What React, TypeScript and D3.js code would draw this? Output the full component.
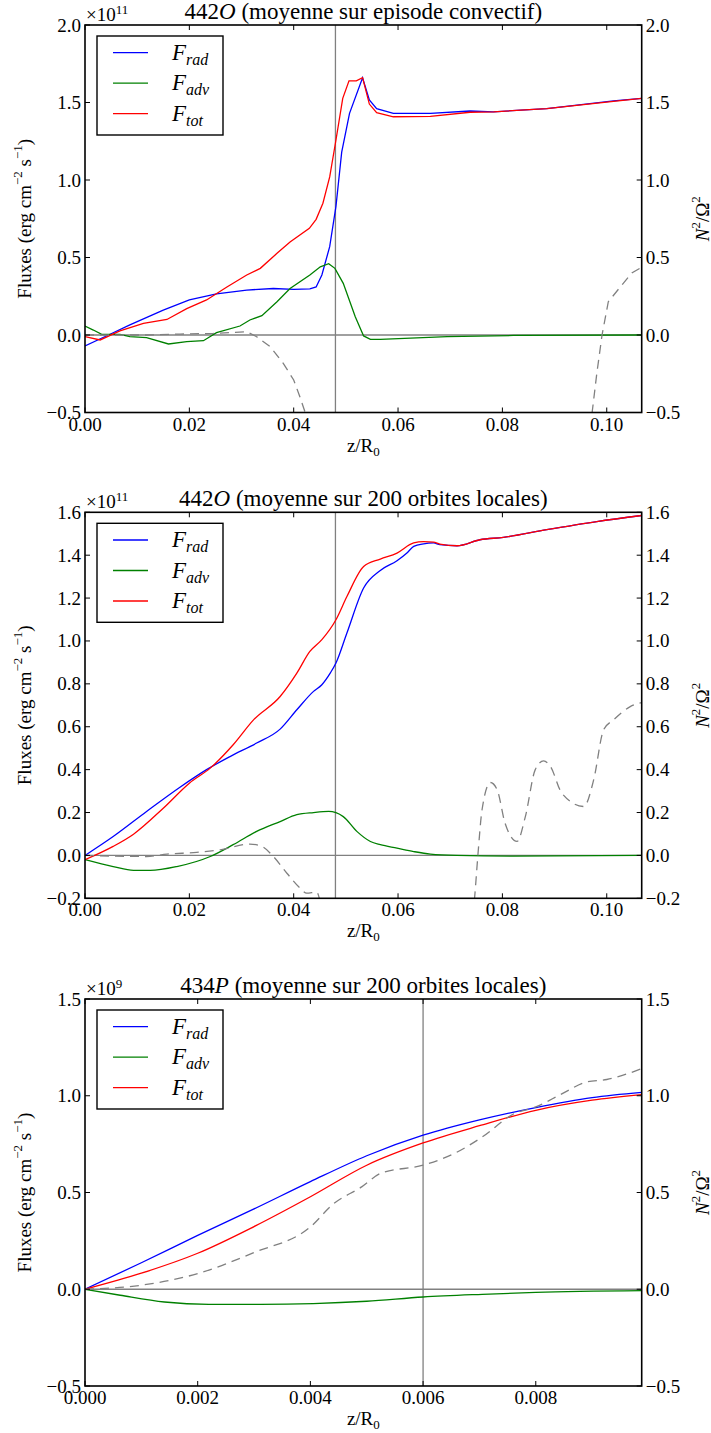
import React from 'react';
import * as d3 from 'd3';

type Pt = [number, number];

// ---------- Panel 1 : 442O (moyenne sur episode convectif) ----------
const p1Rad: Pt[] = [
  [0, -0.071], [0.0048, 0.005], [0.0086, 0.065], [0.015, 0.16], [0.02, 0.226], [0.0252, 0.265],
  [0.031, 0.29], [0.0361, 0.3], [0.04, 0.295], [0.0431, 0.297], [0.0443, 0.31], [0.0454, 0.387],
  [0.0469, 0.57], [0.0481, 0.83], [0.0492, 1.18], [0.0507, 1.43], [0.0532, 1.66], [0.0545, 1.516],
  [0.0559, 1.46], [0.0591, 1.43], [0.0662, 1.43], [0.0738, 1.445], [0.0783, 1.44], [0.0885, 1.46],
  [0.1013, 1.51], [0.1067, 1.527],
];
const p1Adv: Pt[] = [
  [0, 0.058], [0.0016, 0.032], [0.0032, 0.004], [0.0067, 0.004], [0.0086, -0.011], [0.0118, -0.017],
  [0.016, -0.058], [0.0195, -0.043], [0.0227, -0.037], [0.0252, 0.015], [0.0297, 0.058], [0.0316, 0.097],
  [0.0339, 0.125], [0.0368, 0.215], [0.0393, 0.3], [0.0431, 0.387], [0.0451, 0.44], [0.0467, 0.46],
  [0.0479, 0.43], [0.0495, 0.333], [0.0518, 0.118], [0.0534, -0.006], [0.0547, -0.028], [0.0566, -0.028],
  [0.0694, -0.011], [0.0821, -0.003], [0.1067, 0],
];
const p1Tot: Pt[] = [
  [0, -0.011], [0.0029, -0.032], [0.0067, 0.026], [0.0112, 0.075], [0.0157, 0.1], [0.0195, 0.17],
  [0.0233, 0.226], [0.0272, 0.31], [0.031, 0.387], [0.0336, 0.43], [0.0368, 0.527], [0.0393, 0.6],
  [0.043, 0.688], [0.0443, 0.746], [0.0456, 0.85], [0.0469, 1.02], [0.0481, 1.258], [0.0494, 1.527],
  [0.0506, 1.64], [0.052, 1.64], [0.0532, 1.66], [0.0545, 1.49], [0.0559, 1.434], [0.0591, 1.408],
  [0.0662, 1.41], [0.0738, 1.437], [0.0783, 1.44], [0.0885, 1.46], [0.1013, 1.507], [0.1067, 1.527],
];
const p1N2: Pt[] = [
  [0, 0], [0.0118, 0], [0.0182, 0.006], [0.0246, 0.01], [0.031, 0.021], [0.0329, -0.011],
  [0.0355, -0.075], [0.038, -0.183], [0.04, -0.29], [0.0412, -0.4], [0.0422, -0.5], [0.044, -0.75],
  [0.047, -1.2], [0.095, -1.2], [0.0972, -0.5], [0.0981, -0.247], [0.0991, 0], [0.1003, 0.215],
  [0.1026, 0.31], [0.1048, 0.4], [0.1067, 0.437],
];

// ---------- Panel 2 : 442O (moyenne sur 200 orbites locales) ----------
const p2Rad: Pt[] = [
  [0, 0], [0.0054, 0.088], [0.0118, 0.205], [0.0182, 0.318], [0.0233, 0.4], [0.0278, 0.461],
  [0.0329, 0.524], [0.0374, 0.589], [0.0406, 0.679], [0.0438, 0.765], [0.0454, 0.796], [0.047, 0.85],
  [0.0481, 0.897], [0.0502, 1.037], [0.0534, 1.247], [0.0566, 1.329], [0.0598, 1.374], [0.0617, 1.41],
  [0.063, 1.441], [0.0649, 1.453], [0.0668, 1.457], [0.068, 1.449], [0.0713, 1.444], [0.0757, 1.472],
  [0.0802, 1.483], [0.0885, 1.519], [0.0981, 1.557], [0.1067, 1.585],
];
const p2Adv: Pt[] = [
  [0, -0.02], [0.0054, -0.052], [0.0093, -0.07], [0.0125, -0.07], [0.0176, -0.052], [0.024, -0.005],
  [0.0284, 0.05], [0.0329, 0.112], [0.0374, 0.158], [0.0406, 0.19], [0.0438, 0.2], [0.0467, 0.205],
  [0.0495, 0.181], [0.0521, 0.112], [0.0547, 0.065], [0.0566, 0.05], [0.0598, 0.034], [0.063, 0.018],
  [0.0662, 0.006], [0.0713, 0], [0.0821, -0.003], [0.1067, 0],
];
const p2Tot: Pt[] = [
  [0, -0.02], [0.0054, 0.042], [0.0093, 0.099], [0.015, 0.22], [0.02, 0.337], [0.024, 0.407],
  [0.0284, 0.516], [0.0323, 0.632], [0.0374, 0.741], [0.0406, 0.85], [0.0431, 0.951], [0.0454, 1.006],
  [0.0481, 1.099], [0.0502, 1.207], [0.0534, 1.347], [0.0566, 1.382], [0.0598, 1.41], [0.063, 1.457],
  [0.0649, 1.463], [0.0668, 1.461], [0.068, 1.452], [0.0713, 1.444], [0.0757, 1.472], [0.0802, 1.483],
  [0.0885, 1.519], [0.0981, 1.557], [0.1067, 1.585],
];
const p2N2: Pt[] = [
  [0, 0], [0.0118, -0.005], [0.0157, 0.006], [0.0214, 0.014], [0.0259, 0.026], [0.0316, 0.053],
  [0.0339, 0.042], [0.0361, -0.005], [0.0387, -0.083], [0.0412, -0.152], [0.0425, -0.176],
  [0.0444, -0.171], [0.046, -0.3], [0.073, -0.5], [0.0747, -0.19], [0.0753, 0], [0.0761, 0.213],
  [0.0777, 0.34], [0.079, 0.306], [0.0805, 0.151], [0.0828, 0.065], [0.0844, 0.181], [0.0863, 0.4],
  [0.0879, 0.441], [0.0892, 0.415], [0.0914, 0.29], [0.0956, 0.228], [0.0975, 0.353], [0.0994, 0.586],
  [0.1013, 0.632], [0.1045, 0.694], [0.1067, 0.713],
];

// ---------- Panel 3 : 434P (moyenne sur 200 orbites locales) ----------
const p3Rad: Pt[] = [
  [0, 0], [0.001, 0.137], [0.002, 0.278], [0.003, 0.415], [0.004, 0.556], [0.005, 0.69],
  [0.006, 0.796], [0.007, 0.875], [0.008, 0.939], [0.009, 0.99], [0.00988, 1.017],
];
const p3Adv: Pt[] = [
  [0, 0], [0.000625, -0.031], [0.00141, -0.066], [0.0022, -0.078], [0.00312, -0.078], [0.00405, -0.074],
  [0.005, -0.062], [0.006, -0.04], [0.00705, -0.026], [0.008, -0.016], [0.00988, -0.007],
];
const p3Tot: Pt[] = [
  [0, 0], [0.001, 0.083], [0.002, 0.186], [0.003, 0.324], [0.004, 0.478], [0.005, 0.641],
  [0.006, 0.756], [0.007, 0.845], [0.008, 0.925], [0.009, 0.977], [0.00988, 1.006],
];
const p3N2: Pt[] = [
  [0, 0], [0.001, 0.021], [0.002, 0.081], [0.003, 0.19], [0.004, 0.322], [0.0044, 0.439],
  [0.00491, 0.529], [0.00526, 0.601], [0.006, 0.641], [0.00655, 0.701], [0.00705, 0.787],
  [0.00762, 0.908], [0.008, 0.942], [0.00847, 1.011], [0.0089, 1.071], [0.00926, 1.084], [0.00988, 1.14],
];

// ticks
const xTicks12 = [0, 0.02, 0.04, 0.06, 0.08, 0.1];
const xTicks3 = [0, 0.002, 0.004, 0.006, 0.008];
const yTicks1 = [-0.5, 0, 0.5, 1.0, 1.5, 2.0];
const yTicks2 = [-0.2, 0, 0.2, 0.4, 0.6, 0.8, 1.0, 1.2, 1.4, 1.6];
const yTicks3 = [-0.5, 0, 0.5, 1.0, 1.5];

const FONT = '"Liberation Serif", "DejaVu Serif", serif';
const LEFT = 85;
const RIGHT = 641.7;

type PanelProps = {
  id: string;
  top: number;
  bottom: number;
  xMax: number;
  yDomain: [number, number];
  xTicks: number[];
  yTicks: number[];
  xFmt: string;
  vline: number;
  titleNum: string;
  titleLetter: string;
  titleRest: string;
  exponent: string;
  rad: Pt[];
  adv: Pt[];
  tot: Pt[];
  n2: Pt[];
  smooth: boolean;
};

function Panel(p: PanelProps) {
  const x = d3.scaleLinear().domain([0, p.xMax]).range([LEFT, RIGHT]);
  const y = d3.scaleLinear().domain(p.yDomain).range([p.bottom, p.top]);
  const line = d3
    .line<Pt>()
    .x((d) => x(d[0]))
    .y((d) => y(d[1]))
    .curve(p.smooth ? d3.curveMonotoneX : d3.curveLinear);
  const xf = d3.format(p.xFmt);
  const yf = d3.format('.1f');
  const cx = (LEFT + RIGHT) / 2;
  const cy = (p.top + p.bottom) / 2;
  const TL = 5;
  const legRows = [
    { c: '#0000ff', sub: 'rad' },
    { c: '#008000', sub: 'adv' },
    { c: '#ff0000', sub: 'tot' },
  ];
  return (
    <g>
      <defs>
        <clipPath id={p.id}>
          <rect x={LEFT} y={p.top} width={RIGHT - LEFT} height={p.bottom - p.top} />
        </clipPath>
      </defs>
      <g clipPath={`url(#${p.id})`}>
        <line x1={LEFT} x2={RIGHT} y1={y(0)} y2={y(0)} stroke="#808080" strokeWidth={1.3} />
        <line x1={x(p.vline)} x2={x(p.vline)} y1={p.top} y2={p.bottom} stroke="#808080" strokeWidth={1.3} />
        <path d={line(p.rad) || ''} fill="none" stroke="#0000ff" strokeWidth={1.3} />
        <path d={line(p.adv) || ''} fill="none" stroke="#008000" strokeWidth={1.3} />
        <path d={line(p.tot) || ''} fill="none" stroke="#ff0000" strokeWidth={1.3} />
        <path d={line(p.n2) || ''} fill="none" stroke="#808080" strokeWidth={1.3} strokeDasharray="9,6" />
      </g>
      {/* frame */}
      <rect x={LEFT} y={p.top} width={RIGHT - LEFT} height={p.bottom - p.top} fill="none" stroke="#000" strokeWidth={1.6} />
      {/* x ticks */}
      {p.xTicks.map((t) => (
        <g key={'x' + t}>
          <line x1={x(t)} x2={x(t)} y1={p.bottom} y2={p.bottom - TL} stroke="#000" strokeWidth={1} />
          <line x1={x(t)} x2={x(t)} y1={p.top} y2={p.top + TL} stroke="#000" strokeWidth={1} />
          <text x={x(t)} y={p.bottom + 18} textAnchor="middle" fontSize={19} fontFamily={FONT} fill="#000">
            {xf(t)}
          </text>
        </g>
      ))}
      {/* y ticks */}
      {p.yTicks.map((t) => (
        <g key={'y' + t}>
          <line x1={LEFT} x2={LEFT + TL} y1={y(t)} y2={y(t)} stroke="#000" strokeWidth={1} />
          <line x1={RIGHT} x2={RIGHT - TL} y1={y(t)} y2={y(t)} stroke="#000" strokeWidth={1} />
          <text x={LEFT - 4} y={y(t)} textAnchor="end" dominantBaseline="central" fontSize={19} fontFamily={FONT} fill="#000">
            {yf(t)}
          </text>
          <text x={RIGHT + 4} y={y(t)} textAnchor="start" dominantBaseline="central" fontSize={19} fontFamily={FONT} fill="#000">
            {yf(t)}
          </text>
        </g>
      ))}
      {/* offset text */}
      <text x={LEFT + 1} y={p.top - 4} fontSize={19} fontFamily={FONT} fill="#000">
        ×10
        <tspan dy={-7} fontSize={13}>
          {p.exponent}
        </tspan>
      </text>
      {/* title */}
      <text x={cx} y={p.top - 6} textAnchor="middle" fontSize={23} fontFamily={FONT} fill="#000">
        {p.titleNum}
        <tspan fontStyle="italic">{p.titleLetter}</tspan>
        {p.titleRest}
      </text>
      {/* x label */}
      <text x={cx} y={p.bottom + 39} textAnchor="middle" fontSize={19} fontFamily={FONT} fill="#000">
        z/R
        <tspan dy={4} fontSize={13}>
          0
        </tspan>
      </text>
      {/* left y label */}
      <text
        transform={`translate(24,${cy}) rotate(-90)`}
        textAnchor="middle"
        dominantBaseline="central"
        fontSize={19}
        fontFamily={FONT}
        fill="#000"
      >
        Fluxes (erg cm
        <tspan dy={-7} fontSize={13}>
          −2
        </tspan>
        <tspan dy={7}> s</tspan>
        <tspan dy={-7} fontSize={13}>
          −1
        </tspan>
        <tspan dy={7}>)</tspan>
      </text>
      {/* right y label */}
      <text
        transform={`translate(702,${cy}) rotate(-90)`}
        textAnchor="middle"
        dominantBaseline="central"
        fontSize={19}
        fontFamily={FONT}
        fill="#000"
      >
        <tspan fontStyle="italic">N</tspan>
        <tspan dy={-7} fontSize={13}>
          2
        </tspan>
        <tspan dy={7}>/Ω</tspan>
        <tspan dy={-7} fontSize={13}>
          2
        </tspan>
      </text>
      {/* legend */}
      <rect x={97} y={p.top + 11} width={126} height={99} fill="#fff" stroke="#000" strokeWidth={1.4} />
      {legRows.map((r, i) => {
        const ry = p.top + 27.7 + i * 30.5;
        return (
          <g key={r.sub}>
            <line x1={113} x2={148} y1={ry} y2={ry} stroke={r.c} strokeWidth={1.3} />
            <text x={172} y={ry + 7} fontSize={23} fontFamily={FONT} fontStyle="italic" fill="#000">
              F
              <tspan dy={5} fontSize={16}>
                {r.sub}
              </tspan>
            </text>
          </g>
        );
      })}
    </g>
  );
}

export default function App() {
  return (
    <svg
      width={711}
      height={1433}
      viewBox="0 0 711 1433"
      style={{ position: 'absolute', left: 0, top: 0, background: '#fff' }}
    >
      <rect x={0} y={0} width={711} height={1433} fill="#fff" />
      <Panel
        id="c1"
        top={25}
        bottom={412.5}
        xMax={0.1067}
        yDomain={[-0.5, 2.0]}
        xTicks={xTicks12}
        yTicks={yTicks1}
        xFmt=".2f"
        vline={0.048}
        titleNum="442"
        titleLetter="O"
        titleRest=" (moyenne sur episode convectif)"
        exponent="11"
        rad={p1Rad}
        adv={p1Adv}
        tot={p1Tot}
        n2={p1N2}
        smooth={false}
      />
      <Panel
        id="c2"
        top={512.3}
        bottom={898.3}
        xMax={0.1067}
        yDomain={[-0.2, 1.6]}
        xTicks={xTicks12}
        yTicks={yTicks2}
        xFmt=".2f"
        vline={0.048}
        titleNum="442"
        titleLetter="O"
        titleRest=" (moyenne sur 200 orbites locales)"
        exponent="11"
        rad={p2Rad}
        adv={p2Adv}
        tot={p2Tot}
        n2={p2N2}
        smooth={true}
      />
      <Panel
        id="c3"
        top={999}
        bottom={1386}
        xMax={0.00988}
        yDomain={[-0.5, 1.5]}
        xTicks={xTicks3}
        yTicks={yTicks3}
        xFmt=".3f"
        vline={0.006}
        titleNum="434"
        titleLetter="P"
        titleRest=" (moyenne sur 200 orbites locales)"
        exponent="9"
        rad={p3Rad}
        adv={p3Adv}
        tot={p3Tot}
        n2={p3N2}
        smooth={true}
      />
    </svg>
  );
}
